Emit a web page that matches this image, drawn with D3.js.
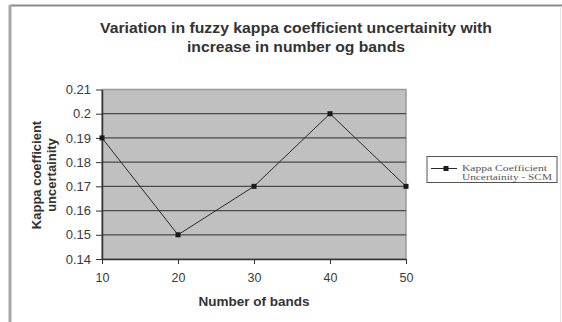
<!DOCTYPE html>
<html><head><meta charset="utf-8">
<script src="https://cdn.jsdelivr.net/npm/d3@7"></script>
<style>body{margin:0;background:#fff}svg{display:block}</style>
</head><body>
<script>
const bands = [10, 20, 30, 40, 50];
const uncertainty = [0.19, 0.15, 0.17, 0.20, 0.17];
const yTicks = [0.14, 0.15, 0.16, 0.17, 0.18, 0.19, 0.2, 0.21];
const titleLines = ["Variation in fuzzy kappa coefficient uncertainity with", "increase in number og bands"];
const yTitleLines = ["Kappa coefficient", "uncertainity"];
const xTitle = "Number of bands";
const legendLines = ["Kappa Coefficient", "Uncertainity - SCM"];

const W = 562, H = 322;
const sans = "Arial, 'Liberation Sans', sans-serif";
const svg = d3.select("body").append("svg").attr("width", W).attr("height", H);

// outer frame
svg.append("line").attr("x1", 10).attr("x2", W).attr("y1", 5.5).attr("y2", 5.5).attr("stroke", "#8a8a8a").attr("stroke-width", 2);
svg.append("line").attr("x1", 10).attr("x2", 10).attr("y1", 5).attr("y2", H).attr("stroke", "#a8a8a8").attr("stroke-width", 3);
svg.append("line").attr("x1", 560.5).attr("x2", 560.5).attr("y1", 6).attr("y2", H).attr("stroke", "#e4e4e4").attr("stroke-width", 1);

const plot = {l: 102, r: 406, t: 89.5, b: 259};
const x = d3.scaleLinear().domain([10, 50]).range([plot.l, plot.r]);
const y = d3.scaleLinear().domain([0.14, 0.21]).range([plot.b, plot.t]);

svg.append("rect").attr("x", plot.l).attr("y", plot.t).attr("width", plot.r - plot.l).attr("height", plot.b - plot.t)
  .attr("fill", "#c0c0c0").attr("stroke", "#9a9a9a").attr("stroke-width", 1.5);

// gridlines
svg.append("g").selectAll("line").data(yTicks.slice(1, -1)).join("line")
  .attr("x1", plot.l).attr("x2", plot.r).attr("y1", d => y(d)).attr("y2", d => y(d))
  .attr("stroke", "#4a4a4a").attr("stroke-width", 1.3);

// axes
const yAxis = d3.axisLeft(y).tickValues(yTicks).tickFormat(d => String(+d.toFixed(2))).tickSize(6).tickSizeOuter(0);
const gy = svg.append("g").attr("transform", `translate(${plot.l},0)`).call(yAxis);
gy.select(".domain").attr("stroke", "#333").attr("stroke-width", 1.5);
gy.selectAll(".tick line").attr("stroke", "#333");
gy.selectAll("text").attr("font-family", sans).attr("font-size", 13).attr("fill", "#3a3a3a").attr("x", -11);

const xAxis = d3.axisBottom(x).tickValues(bands).tickSize(5).tickSizeOuter(0);
const gx = svg.append("g").attr("transform", `translate(0,${plot.b})`).call(xAxis);
gx.select(".domain").attr("stroke", "#333").attr("stroke-width", 1.5);
gx.selectAll(".tick line").attr("stroke", "#333");
gx.selectAll("text").attr("font-family", sans).attr("font-size", 12.5).attr("fill", "#3a3a3a").attr("y", 14);

// series
const line = d3.line().x((d, i) => x(bands[i])).y(d => y(d));
svg.append("path").datum(uncertainty).attr("d", line).attr("fill", "none").attr("stroke", "#2a2a2a").attr("stroke-width", 1);
svg.append("g").selectAll("rect").data(uncertainty).join("rect")
  .attr("x", (d, i) => x(bands[i]) - 2.5).attr("y", d => y(d) - 2.5).attr("width", 5).attr("height", 5).attr("fill", "#1a1a1a");

// title
const titleW = [392, 218];
svg.append("g").selectAll("text").data(titleLines).join("text")
  .attr("x", 296).attr("y", (d, i) => 33 + i * 19).attr("text-anchor", "middle")
  .attr("font-family", sans).attr("font-weight", "bold").attr("font-size", 14).attr("fill", "#333")
  .attr("textLength", (d, i) => titleW[i]).attr("lengthAdjust", "spacingAndGlyphs")
  .text(d => d);

// y title
svg.append("g").selectAll("text").data(yTitleLines).join("text")
  .attr("transform", (d, i) => `translate(${41 + i * 15},175) rotate(-90)`).attr("text-anchor", "middle")
  .attr("font-family", sans).attr("font-weight", "bold").attr("font-size", 13).attr("fill", "#333")
  .text(d => d);

// x title
svg.append("text").attr("x", 254).attr("y", 306).attr("text-anchor", "middle")
  .attr("font-family", sans).attr("font-weight", "bold").attr("font-size", 13.5).attr("fill", "#333")
  .text(xTitle);

// legend
const legW = [85, 90];
const lg = svg.append("g");
lg.append("rect").attr("x", 427).attr("y", 156.5).attr("width", 130).attr("height", 26).attr("fill", "#fff").attr("stroke", "#555").attr("stroke-width", 1);
lg.append("line").attr("x1", 431).attr("x2", 457).attr("y1", 168.5).attr("y2", 168.5).attr("stroke", "#2a2a2a").attr("stroke-width", 1);
lg.append("rect").attr("x", 446 - 2.5).attr("y", 166).attr("width", 5).attr("height", 5).attr("fill", "#1a1a1a");
lg.selectAll("text").data(legendLines).join("text")
  .attr("x", 462).attr("y", (d, i) => 171 + i * 9)
  .attr("font-family", "'Liberation Serif', 'Times New Roman', serif").attr("font-size", 9).attr("fill", "#555")
  .attr("textLength", (d, i) => legW[i]).attr("lengthAdjust", "spacingAndGlyphs")
  .text(d => d);
</script>
</body></html>
